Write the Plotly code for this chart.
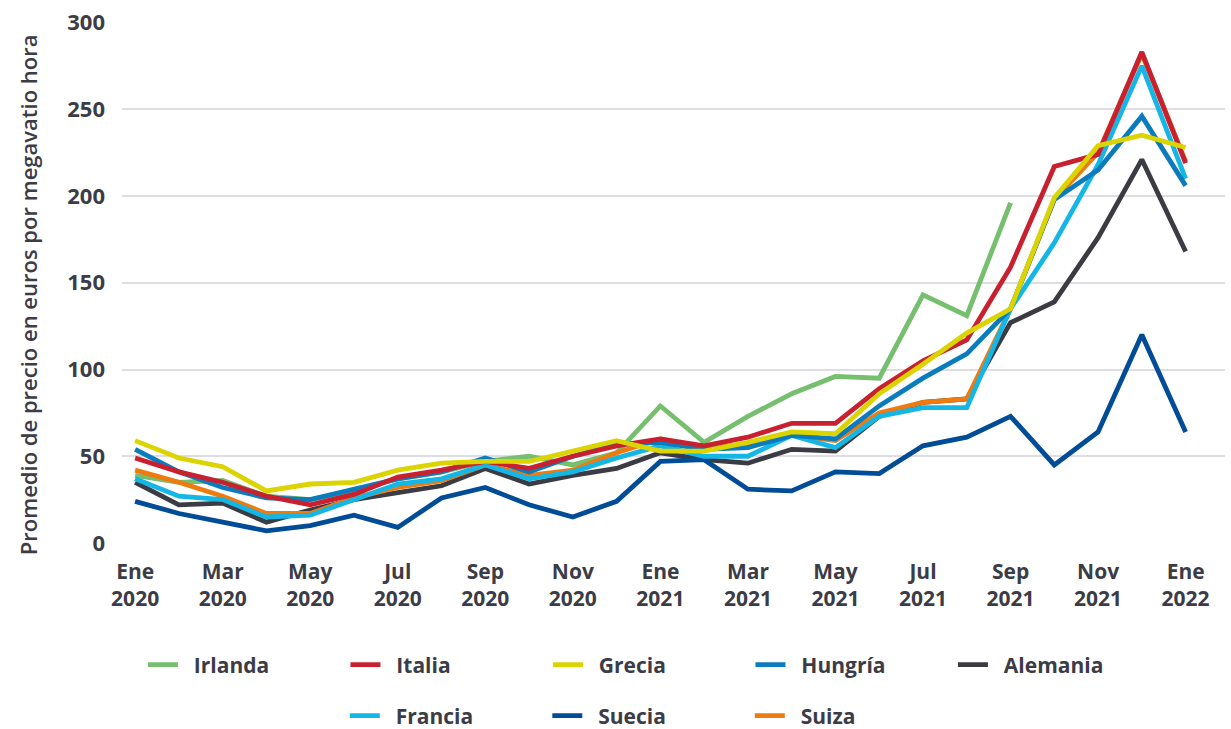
import plotly.graph_objects as go

months = ["Ene 2020","Feb 2020","Mar 2020","Abr 2020","May 2020","Jun 2020","Jul 2020","Ago 2020",
          "Sep 2020","Oct 2020","Nov 2020","Dic 2020","Ene 2021","Feb 2021","Mar 2021","Abr 2021",
          "May 2021","Jun 2021","Jul 2021","Ago 2021","Sep 2021","Oct 2021","Nov 2021","Dic 2021","Ene 2022"]
tick_idx = list(range(0, 25, 2))
tick_text = ["Ene<br>2020","Mar<br>2020","May<br>2020","Jul<br>2020","Sep<br>2020","Nov<br>2020",
             "Ene<br>2021","Mar<br>2021","May<br>2021","Jul<br>2021","Sep<br>2021","Nov<br>2021","Ene<br>2022"]
y_ticks = [0, 50, 100, 150, 200, 250, 300]
y_title = "Promedio de precio en euros por megavatio hora"

irlanda  = [39, 35, 36, 27, 25, 30, 37, 41, 47, 50, 45, 52, 79, 58, 73, 86, 96, 95, 143, 131, 196]
italia   = [49, 41, 35, 27, 22, 28, 38, 42, 47, 43, 50, 56, 60, 56, 61, 69, 69, 89, 105, 117, 159, 217, 224, 283, 219]
grecia   = [59, 49, 44, 30, 34, 35, 42, 46, 47, 47, 53, 59, 53, 53, 58, 64, 63, 86, 103, 121, 135, 199, 229, 235, 228]
hungria  = [54, 41, 32, 26, 25, 31, 37, 41, 49, 41, 50, 57, 58, 54, 55, 62, 60, 79, 95, 109, 135, 198, 215, 246, 206]
alemania = [35, 22, 23, 12, 19, 25, 29, 33, 43, 34, 39, 43, 52, 48, 46, 54, 53, 73, 81, 83, 127, 139, 176, 221, 168]
francia  = [37, 27, 25, 15, 16, 25, 34, 37, 45, 37, 41, 49, 56, 50, 50, 62, 55, 73, 78, 78, 135, 173, 218, 275, 210]
suecia   = [24, 17, 12, 7, 10, 16, 9, 26, 32, 22, 15, 24, 47, 48, 31, 30, 41, 40, 56, 61, 73, 45, 64, 120, 64]
suiza    = [42, 35, 27, 17, 17, 26, 32, 36, 45, 39, 42, 52, 60, 55, 57, 62, 59, 75, 81, 83, 135, 198, 225, 282, 220]

series = [
    ("Irlanda", irlanda, "#76bf6e", "legend", 1),
    ("Alemania", alemania, "#3b3b43", "legend", 5),
    ("Suecia", suecia, "#004c97", "legend2", 7),
    ("Suiza", suiza, "#ef7b0e", "legend2", 8),
    ("Francia", francia, "#14b6e6", "legend2", 6),
    ("Hungría", hungria, "#0a7bbd", "legend", 4),
    ("Italia", italia, "#c8202f", "legend", 2),
    ("Grecia", grecia, "#dcd400", "legend", 3),
]

pad = "\u00a0\u00a0"
fig = go.Figure()
for name, vals, color, lg, rank in series:
    fig.add_trace(go.Scatter(
        x=list(range(len(vals))), y=vals, name=pad + name, mode="lines",
        line=dict(color=color, width=4.8), legend=lg, legendrank=rank,
        customdata=months[:len(vals)], hovertemplate="%{customdata}: %{y}<extra>" + name + "</extra>",
    ))

font_color = "#3c3c46"
legend_font = dict(family="Open Sans", size=21, color=font_color, weight="bold")
fig.update_layout(
    width=1231, height=729,
    margin=dict(l=122, r=6, t=22, b=186, autoexpand=False),
    plot_bgcolor="white", paper_bgcolor="white",
    font=dict(family="Open Sans", color=font_color),
    xaxis=dict(range=[-0.3, 24.9], tickmode="array", tickvals=tick_idx, ticktext=tick_text,
               showgrid=False, zeroline=False, showline=False, ticks="", ticklabelstandoff=14,
               tickfont=dict(family="Open Sans", size=21, color=font_color, weight="bold")),
    yaxis=dict(range=[0, 300.3], tickmode="array", tickvals=y_ticks,
               showgrid=True, gridcolor="#dddde2", gridwidth=2, zeroline=False, showline=False,
               ticks="", ticklabelstandoff=16,
               tickfont=dict(family="Open Sans", size=22, color=font_color, weight="bold")),
    annotations=[dict(text=y_title, textangle=-90, xref="paper", yref="paper",
                      x=-0.085, y=0.476, xanchor="center", yanchor="middle", showarrow=False,
                      font=dict(family="Open Sans", size=22, color=font_color, weight=600))],
    legend=dict(orientation="h", x=0.019, y=-0.234, xanchor="left", yanchor="middle",
                entrywidth=157.5, entrywidthmode="pixels", itemwidth=30, font=legend_font,
                traceorder="normal", bgcolor="rgba(0,0,0,0)"),
    legend2=dict(orientation="h", x=0.202, y=-0.332, xanchor="left", yanchor="middle",
                 entrywidth=157.5, entrywidthmode="pixels", itemwidth=30, font=legend_font,
                 traceorder="normal", bgcolor="rgba(0,0,0,0)"),
    showlegend=True,
)

fig.write_html("out.html", config={"displayModeBar": False},
               post_script="document.body.style.margin='0';document.body.style.overflow='hidden';")
